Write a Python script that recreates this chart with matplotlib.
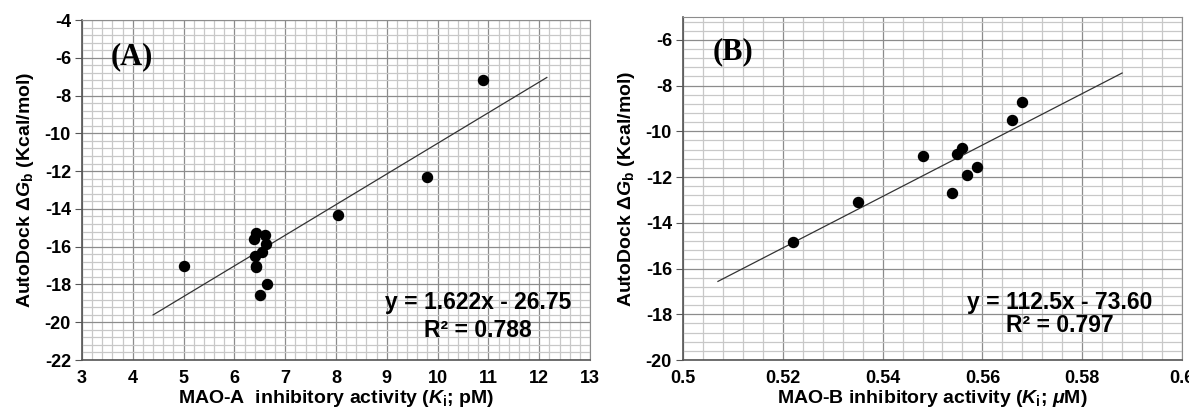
import numpy as np
import matplotlib
matplotlib.use('Agg')
import matplotlib.pyplot as plt
from matplotlib.ticker import MultipleLocator, FormatStrFormatter

plt.rcParams['font.family'] = ['Liberation Sans', 'DejaVu Sans']
plt.rcParams['font.weight'] = 'bold'
plt.rcParams['axes.unicode_minus'] = False
plt.rcParams['mathtext.fontset'] = 'custom'
plt.rcParams['mathtext.rm'] = 'Liberation Sans:bold'
plt.rcParams['mathtext.it'] = 'Liberation Sans:italic:bold'

# panel A: MAO-A
ki_a = [5.0, 10.9, 9.8, 8.03, 6.42, 6.38, 6.6, 6.62, 6.55, 6.4, 6.42, 6.42, 6.65, 6.5]
dg_a = [-17.0, -7.15, -12.3, -14.3, -15.3, -15.6, -15.4, -15.85, -16.3, -16.5, -17.0, -17.1, -18.0, -18.55]
fit_a = (1.622, -26.75)
fit_a_x = [4.4, 12.15]

# panel B: MAO-B
ki_b = [0.522, 0.535, 0.548, 0.554, 0.555, 0.556, 0.557, 0.559, 0.566, 0.568]
dg_b = [-14.85, -13.1, -11.07, -12.68, -10.97, -10.75, -11.89, -11.54, -9.5, -8.72]
fit_b = (112.5, -73.60)
fit_b_x = [0.507, 0.588]

fig = plt.figure(figsize=(11.89, 4.12), dpi=100)
ax1 = fig.add_axes([82/1189, 1-360/412, 508/1189, 340/412])
ax2 = fig.add_axes([683/1189, 1-360/412, 499/1189, 343/412])


def style(ax, xlim, ylim, xmaj, xmin, ymin, yticks):
    ax.set_xlim(xlim)
    ax.set_ylim(ylim)
    ax.xaxis.set_major_locator(MultipleLocator(xmaj))
    ax.xaxis.set_minor_locator(MultipleLocator(xmin))
    ax.yaxis.set_minor_locator(MultipleLocator(ymin))
    ax.set_yticks(yticks)
    ax.xaxis.set_major_formatter(FormatStrFormatter('%g'))
    ax.grid(which='minor', color='#c8c8c8', lw=0.9)
    ax.grid(which='major', color='#8c8c8c', lw=0.9)
    ax.set_axisbelow(True)
    for s in ['top', 'right']:
        ax.spines[s].set_color('#8c8c8c')
    for s in ['left', 'bottom']:
        ax.spines[s].set_color('#555555')
        ax.spines[s].set_linewidth(1.2)
    ax.tick_params(axis='y', which='major', length=5, color='#555555', labelsize=13, pad=3)
    ax.tick_params(axis='x', which='major', length=0, labelsize=13, pad=7)
    ax.tick_params(which='minor', length=0)
    for lab in ax.get_xticklabels() + ax.get_yticklabels():
        lab.set_fontweight('bold')


style(ax1, (3, 13), (-22, -4), 1, 0.2, 0.4, np.arange(-22, -3, 2))
style(ax2, (0.5, 0.6), (-20, -5), 0.02, 0.004, 0.4, np.arange(-20, -5, 2))

for ax, x, y, fit, fx in [(ax1, ki_a, dg_a, fit_a, fit_a_x), (ax2, ki_b, dg_b, fit_b, fit_b_x)]:
    fx = np.array(fx)
    ax.plot(fx, fit[0] * fx + fit[1], color='#333333', lw=0.9, zorder=3)
    ax.scatter(x, y, s=52, color='black', zorder=4)

ylab = r'AutoDock $\Delta\mathit{G}_{\mathrm{b}}$ (Kcal/mol)'
ax1.set_ylabel(ylab, fontsize=14, fontweight='bold', labelpad=6)
ax2.set_ylabel(ylab, fontsize=14, fontweight='bold', labelpad=6)
ax1.set_xlabel(r'MAO-A  inhibitory activity ($\mathit{K}_{\mathrm{i}}$; pM)', fontsize=14, fontweight='bold', labelpad=1)
ax2.set_xlabel(r'MAO-B inhibitory activity ($\mathit{K}_{\mathrm{i}}$; $\mu$M)', fontsize=14, fontweight='bold', labelpad=1)

ax1.text(0.099, 0.891, '(A)', transform=ax1.transAxes, family='Liberation Serif',
         fontsize=22, fontweight='bold', ha='center', va='center')
ax2.text(0.10, 0.898, '(B)', transform=ax2.transAxes, family='Liberation Serif',
         fontsize=22, fontweight='bold', ha='center', va='center')

ax1.text(0.78, 0.168, 'y = 1.622x - 26.75', transform=ax1.transAxes, fontsize=16.5,
         fontweight='bold', ha='center', va='center')
ax1.text(0.78, 0.088, 'R² = 0.788', transform=ax1.transAxes, fontsize=16.5,
         fontweight='bold', ha='center', va='center')
ax2.text(0.755, 0.169, 'y = 112.5x - 73.60', transform=ax2.transAxes, fontsize=16.5,
         fontweight='bold', ha='center', va='center')
ax2.text(0.755, 0.102, 'R² = 0.797', transform=ax2.transAxes, fontsize=16.5,
         fontweight='bold', ha='center', va='center')

fig.savefig('out.png', dpi=100)
